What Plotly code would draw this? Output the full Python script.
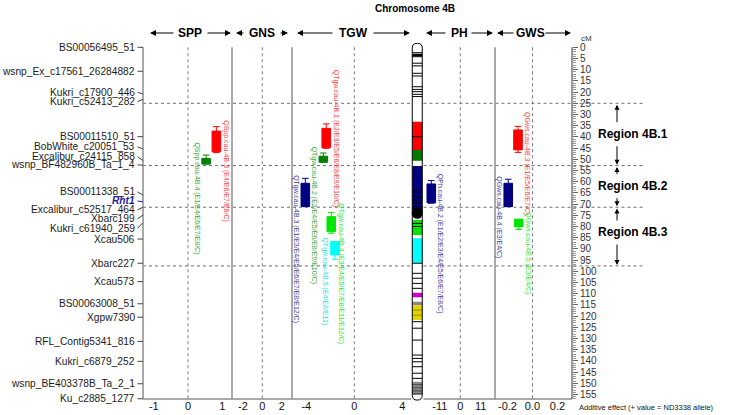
import plotly.graph_objects as go

# ---- genetic map of chromosome 4B (positions in cM) ----
marker_names = ["BS00056495_51", "wsnp_Ex_c17561_26284882", "Kukri_c17900_446", "Kukri_c52413_282",
                "BS00011510_51", "BobWhite_c20051_53", "Excalibur_c24115_858", "wsnp_BF482960B_Ta_1_4",
                "BS00011338_51", "Rht1", "Excalibur_c52517_464", "Xbarc199", "Kukri_c61940_259",
                "Xcau506", "Xbarc227", "Xcau573", "BS00063008_51", "Xgpw7390", "RFL_Contig5341_816",
                "Kukri_c6879_252", "wsnp_BE403378B_Ta_2_1", "Ku_c2885_1277"]
marker_cm = [0, 10.7, 20.9, 23.2, 39.9, 45.4, 50.6, 52.6, 66.0, 69.0, 71.4, 74.9, 78.3,
             85.6, 96.4, 104.6, 114.5, 120.5, 131.3, 140.2, 150.2, 156.9]

# ---- QTL (additive effect, + value = ND3338 allele) ----
qtl_names = ["QSpp.cau-4B.3", "QSpp.cau-4B.4", "QTgw.cau-4B.1", "QTgw.cau-4B.2", "QTgw.cau-4B.3",
             "QTgw.cau-4B.4", "QTgw.cau-4B.5", "QPh.cau-4B.2", "QGws.cau-4B.3", "QGws.cau-4B.4",
             "QGws.cau-4B.5"]
qtl_envs = ["E4/E6/E7/E8/C", "E1/E4/E6/E7/E8/C", "E2/E3/E5/E6/E8/E9/E10/C", "E2/E4/E5/E6/E8/E9/E10/C",
            "E1/E3/E4/E5/E6/E7/E8/E12/C", "E3/E4/E5/E7/E8/E11/E12/C", "E4/E8/E11",
            "E1/E2/E3/E4/E5/E6/E7/E8/C", "E1/E5/E6/E7/C", "E3/E4/C", "E3/E4/C"]
qtl_trait = ["SPP", "SPP", "TGW", "TGW", "TGW", "TGW", "TGW", "PH", "GWS", "GWS", "GWS"]
qtl_effect = [0.83, 0.53, -2.34, -2.58, -4.08, -1.92, -1.61, -15.6, -0.116, -0.194, -0.11]
qtl_box_start = [37.4, 49.6, 36.2, 48.6, 60.7, 75.6, 86.8, 61.0, 36.9, 60.7, 76.8]
qtl_box_end = [46.6, 52.1, 44.8, 51.3, 71.1, 82.3, 92.7, 69.4, 45.8, 71.1, 80.1]
qtl_ci_start = [35.4, 48.1, 34.2, 47.2, 58.5, 73.8, 86.8, 59.5, 35.3, 58.9, 76.8]
qtl_ci_end = [47.0, 52.1, 45.1, 51.3, 71.1, 83.0, 94.6, 69.6, 46.9, 71.1, 81.3]

# ---- chromosome drawing ----
chr_seg_start = [33.2, 45.8, 53.0, 77.1, 85.3, 109.6, 113.6, 115.1, 149.3]
chr_seg_end = [45.8, 50.6, 74.1, 83.8, 96.2, 111.6, 115.1, 121.7, 155.2]
chr_band_cm = [2.4, 4.2, 7.1, 8.3, 11.6, 12.8, 17.6, 18.8, 19.8, 21.0, 22.0, 39.9,
               64.5, 66.7, 68.2, 69.6, 71.2, 78.6, 80.0, 96.4, 100.9, 103.1, 105.4, 107.6,
               122.5, 125.4, 130.7, 137.4, 138.9, 140.4, 142.6, 145.5, 147.8]
chr_thick_band_cm = [3.4]
chr_yellow_band_cm = [117.3, 119.6]
chr_grey_band_cm = [150.6, 152.0, 153.4, 154.6]
centromere_cm = 74.1

# ---- regions ----
region_names = ["Region 4B.1", "Region 4B.2", "Region 4B.3"]
region_bounds = [25, 52.8, 71.4, 97.6]

# ---- axes ----
traits = ["SPP", "GNS", "TGW", "PH", "GWS"]
trait_ticks = {"SPP": [-1, 0, 1], "GNS": [-2, 0, 2], "TGW": [-4, 0, 4], "PH": [-11, 0, 11], "GWS": [-0.2, 0, 0.2]}
trait_ticktext = {"SPP": ["-1", "0", "1"], "GNS": ["-2", "0", "2"], "TGW": ["-4", "0", "4"],
                  "PH": ["-11", "0", "11"], "GWS": ["-0.2", "0.0", "0.2"]}
cm_ticks = list(range(0, 160, 5))

# ---------------- layout geometry (pixels) ----------------
W, H = 743, 415
L, R, T, B = 143, 572, 43, 401
Y_TOP, Y_BOT = -1.92, 157.9
MAP_END = 157

def fx(px):
    return (px - L) / (R - L)

def fy(py):
    return (B - py) / (B - T)

panel_px = {"SPP": (143, 232), "GNS": (232, 292), "TGW": (292, 411), "CHR": (411, 423.5),
            "PH": (423.5, 495), "GWS": (495, 572)}
panel_range = {"SPP": (-1.316, 1.287), "GNS": (-3.12, 3.06), "TGW": (-5.19, 4.72), "CHR": (-1.25, 1.25),
               "PH": (-19.8, 18.7), "GWS": (-0.3, 0.316)}
panel_axis = {"SPP": "x", "GNS": "x2", "TGW": "x3", "CHR": "x4", "PH": "x5", "GWS": "x6"}

def ppu(p):
    a, b = panel_px[p]
    r0, r1 = panel_range[p]
    return (b - a) / (r1 - r0)

qtl_color = ["#ff0000", "#008000", "#ff0000", "#008000", "#000080", "#00e600", "#00ffff",
             "#000080", "#ff0000", "#000080", "#00e600"]
qtl_text_color = ["#ff3b3b", "#3aa53a", "#ff3b3b", "#3aa53a", "#3c3c9c", "#2ee82e", "#22dede",
                  "#3c3c9c", "#ff3b3b", "#3c3c9c", "#2ee82e"]
qtl_label_side = [1, -1, 1, -1, -1, 1, -1, 1, 1, -1, 1]
qtl_label_top = [31.6, 41.4, 9.2, 43.6, 56.1, 68.9, 84.2, 55.5, 28.0, 56.6, 72.9]
marker_label_cm = [0, 10.7, 20.0, 24.3, 39.9, 44.4, 48.8, 52.5, 64.5, 68.6, 72.6, 76.6, 80.8,
                   85.6, 96.4, 104.6, 114.5, 120.5, 131.3, 140.2, 150.2, 156.9]
chr_seg_color = ["#ff0000", "#007a00", "#000080", "#00e600", "#00ffff", "#cc00cc", "#8a8a8a",
                 "#e2d400", "#8a8a8a"]

fig = go.Figure()
shapes = []
annotations = []
FONT = "Arial, Liberation Sans, sans-serif"

# empty trace per panel so every subplot is built
for p, ax in panel_axis.items():
    fig.add_trace(go.Scatter(x=[None], y=[None], xaxis=ax, yaxis="y", showlegend=False, hoverinfo="skip"))

# QTL boxes with whiskers
for i, name in enumerate(qtl_names):
    p = qtl_trait[i]
    ax = panel_axis[p]
    e = qtl_effect[i]
    hw = 4.3 / ppu(p)
    cw = 3.3 / ppu(p)
    w0, w1 = qtl_ci_start[i], qtl_ci_end[i]
    fig.add_trace(go.Scatter(
        x=[e, e, None, e - cw, e + cw, None, e - cw, e + cw],
        y=[w0, w1, None, w0, w0, None, w1, w1],
        mode="lines", line=dict(color=qtl_color[i], width=1),
        xaxis=ax, yaxis="y", showlegend=False, hoverinfo="skip"))
    b0, b1 = qtl_box_start[i], qtl_box_end[i]
    fig.add_trace(go.Scatter(
        x=[e - hw, e + hw, e + hw, e - hw, e - hw], y=[b0, b0, b1, b1, b0],
        mode="lines", fill="toself", fillcolor=qtl_color[i],
        line=dict(color=qtl_color[i], width=1),
        xaxis=ax, yaxis="y", showlegend=False, name=name,
        hoverinfo="text", hovertext=f"{name}<br>{e}"))
    annotations.append(dict(
        x=e, xref=ax, y=qtl_label_top[i], yref="y", xshift=qtl_label_side[i] * 9.5,
        text=f"{name} ({qtl_envs[i]})", textangle=90, showarrow=False,
        xanchor="center", yanchor="top", font=dict(size=7, color=qtl_text_color[i], family=FONT)))

# centromere
fig.add_trace(go.Scatter(x=[0], y=[centromere_cm], mode="markers", xaxis="x4", yaxis="y",
                         marker=dict(size=11, color="black"), cliponaxis=False,
                         showlegend=False, hoverinfo="skip"))

# region separators (dotted), skipping the chromosome
for b in region_bounds:
    for x0, x1 in [(fx(143), fx(411)), (fx(423.5), fx(643))]:
        shapes.append(dict(type="line", xref="paper", yref="y", x0=x0, x1=x1, y0=b, y1=b,
                           line=dict(color="#6e6e6e", width=1, dash="dot"), layer="below"))

# zero lines in each trait panel
for p in traits:
    shapes.append(dict(type="line", xref=panel_axis[p], yref="y", x0=0, x1=0, y0=0, y1=MAP_END,
                       line=dict(color="#7a7a7a", width=1, dash="dot"), layer="below"))

# panel frames
for px in [143, 232, 292, 495]:
    shapes.append(dict(type="line", xref="paper", yref="y", x0=fx(px), x1=fx(px), y0=0, y1=MAP_END,
                       line=dict(color="#8c8c8c", width=1.5), layer="below"))
for x0, x1 in [(fx(143), fx(411)), (fx(423.5), fx(572))]:
    shapes.append(dict(type="line", xref="paper", yref="y", x0=x0, x1=x1, y0=MAP_END, y1=MAP_END,
                       line=dict(color="#8c8c8c", width=1.5), layer="below"))
shapes.append(dict(type="line", xref="paper", yref="y", x0=1, x1=1, y0=0, y1=MAP_END,
                   line=dict(color="#555555", width=1.2)))

# marker labels and connectors
for name, m, lab in zip(marker_names, marker_cm, marker_label_cm):
    is_gene = name == "Rht1"
    col = "#1c1c9a" if is_gene else "#1a1a1a"
    annotations.append(dict(x=fx(136.5), xref="paper", y=lab, yref="y", xanchor="right", yanchor="middle",
                            text=f"<b><i>{name}</i></b>" if is_gene else name, showarrow=False,
                            font=dict(size=10.2, color=col, family=FONT)))
    shapes.append(dict(type="line", xref="paper", yref="y", x0=fx(137.5), x1=0, y0=lab, y1=m,
                       line=dict(color="#1c1c9a" if is_gene else "#444444", width=1)))

# chromosome
top, bot, cap = -1.8, 157.5, 2.2
body = (f"M -1,{top + cap} Q -1,{top} 0,{top} Q 1,{top} 1,{top + cap} "
        f"L 1,{bot - cap} Q 1,{bot} 0,{bot} Q -1,{bot} -1,{bot - cap} Z")
shapes.append(dict(type="path", xref="x4", yref="y", path=body, fillcolor="white",
                   line=dict(width=0), layer="below"))
for s, e, c in zip(chr_seg_start, chr_seg_end, chr_seg_color):
    shapes.append(dict(type="rect", xref="x4", yref="y", x0=-1, x1=1, y0=s, y1=e,
                       fillcolor=c, line=dict(width=0), layer="below"))
for cmv, col, wd in ([(v, "black", 1) for v in chr_band_cm] + [(v, "black", 2.5) for v in chr_thick_band_cm]
                     + [(v, "#9a9000", 1) for v in chr_yellow_band_cm]
                     + [(v, "#4a4a4a", 1) for v in chr_grey_band_cm]):
    shapes.append(dict(type="line", xref="x4", yref="y", x0=-1, x1=1, y0=cmv, y1=cmv,
                       line=dict(color=col, width=wd), layer="below"))
shapes.append(dict(type="path", xref="x4", yref="y", path=body, line=dict(color="black", width=1),
                   layer="below"))

# headers
annotations.append(dict(x=fx(415), y=fy(8), xref="paper", yref="paper", text="<b>Chromosome 4B</b>",
                        xanchor="center", yanchor="middle", showarrow=False,
                        font=dict(size=10, color="black", family=FONT)))
header_px = {"SPP": (150, 175, 190, 206, 231), "GNS": (236, 245, 262, 279, 288),
             "TGW": (297, 334, 353, 372, 410), "PH": (426, 447, 459, 470, 493),
             "GWS": (497, 515, 530, 544, 571)}
for p in traits:
    lh, lt, c, rt, rh = header_px[p]
    annotations.append(dict(x=fx(c), y=fy(33), xref="paper", yref="paper", text=f"<b>{p}</b>",
                            xanchor="center", yanchor="middle", showarrow=False,
                            font=dict(size=12, color="black", family=FONT)))
    for head, tail in [(lh, lt), (rh, rt)]:
        annotations.append(dict(x=fx(head), y=fy(33), xref="paper", yref="paper", text="",
                                ax=tail - head, ay=0, axref="pixel", ayref="pixel", showarrow=True,
                                arrowhead=2, arrowsize=1.2, arrowwidth=1, arrowcolor="black"))
annotations.append(dict(x=fx(586), y=fy(39), xref="paper", yref="paper", text="cM", showarrow=False,
                        xanchor="center", yanchor="middle", font=dict(size=8, color="#333333", family=FONT)))
annotations.append(dict(x=fx(577), y=fy(407), xref="paper", yref="paper", xanchor="left", yanchor="middle",
                        text="Additive effect (+ value = ND3338 allele)", showarrow=False,
                        font=dict(size=7.5, color="#111111", family=FONT)))

# region labels with arrows
region_label_cm = [38.7, 61.9, 82.6]
for k, name in enumerate(region_names):
    a, b = region_bounds[k], region_bounds[k + 1]
    lab = region_label_cm[k]
    annotations.append(dict(x=fx(633), y=lab, xref="paper", yref="y", text=f"<b>{name}</b>",
                            xanchor="center", yanchor="middle", showarrow=False,
                            font=dict(size=12, color="black", family=FONT)))
    for head, tail in [(a + 0.6, lab - 4.6), (b - 0.4, lab + 4.8)]:
        annotations.append(dict(x=fx(617), y=head, xref="paper", yref="y", text="",
                                ax=0, ay=tail, axref="pixel", ayref="y", showarrow=True,
                                arrowhead=2, arrowsize=1, arrowwidth=1, arrowcolor="black"))

layout = dict(
    width=W, height=H,
    margin=dict(l=L, r=W - R, t=T, b=H - B, pad=0),
    paper_bgcolor="white", plot_bgcolor="white",
    showlegend=False, font=dict(family=FONT),
    shapes=shapes, annotations=annotations,
    yaxis=dict(range=[Y_BOT, Y_TOP], anchor="x6", side="right", tickvals=cm_ticks,
               ticks="outside", ticklen=5, tickcolor="#666666", tickwidth=1,
               tickfont=dict(size=10, color="#333333", family=FONT),
               showgrid=False, zeroline=False, showline=False, automargin=False,
               minor=dict(tickvals=list(range(0, 158)), ticks="outside", ticklen=3,
                          tickcolor="#9a9a9a", showgrid=False)),
)
for p, ax in panel_axis.items():
    a, b = panel_px[p]
    key = "xaxis" + ax[1:]
    d = dict(domain=[fx(a), fx(b)], range=list(panel_range[p]), anchor="y",
             showgrid=False, zeroline=False, showline=False, ticks="", automargin=False,
             ticklabelstandoff=-3,
             tickfont=dict(size=11, color="#111111", family=FONT))
    if p in trait_ticks:
        d.update(tickvals=trait_ticks[p], ticktext=trait_ticktext[p])
    else:
        d.update(showticklabels=False)
    layout[key] = d

fig.update_layout(**layout)
# drop the page's default body margin so the figure sits at the window's corner
fig.write_html("out.html", config={"displayModeBar": False},
               post_script="document.body.style.margin = '0px';")
